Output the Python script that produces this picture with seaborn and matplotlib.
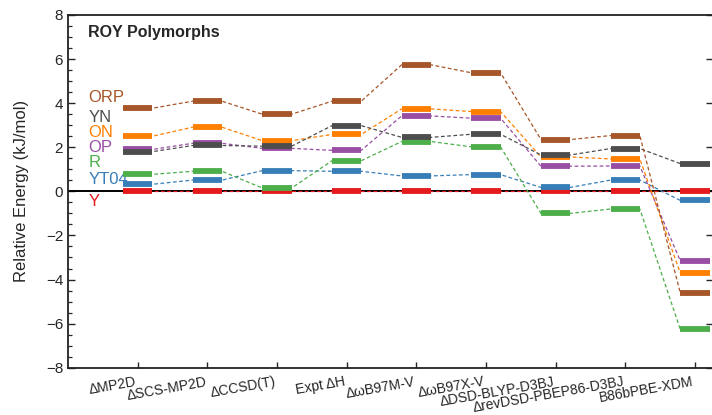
import numpy as np
import pandas as pd
import matplotlib
matplotlib.use("Agg")
import matplotlib.pyplot as plt
import seaborn as sns
from matplotlib.ticker import MultipleLocator

methods = ["\u0394MP2D", "\u0394SCS-MP2D", "\u0394CCSD(T)", "Expt \u0394H", "\u0394\u03c9B97M-V",
           "\u0394\u03c9B97X-V", "\u0394DSD-BLYP-D3BJ", "\u0394revDSD-PBEP86-D3BJ", "B86bPBE-XDM"]

Y    = [0.0, 0.0, 0.0, 0.0, 0.0, 0.0, 0.0, 0.0, 0.0]
YT04 = [0.32, 0.51, 0.94, 0.91, 0.70, 0.76, 0.18, 0.51, -0.41]
R    = [0.77, 0.91, 0.15, 1.39, 2.26, 2.02, -1.00, -0.80, -6.26]
OP   = [1.90, 2.18, 1.95, 1.86, 3.42, 3.32, 1.14, 1.15, -3.15]
ON   = [2.50, 2.91, 2.30, 2.58, 3.74, 3.62, 1.56, 1.47, -3.70]
YN   = [1.80, 2.08, 2.05, 2.98, 2.45, 2.59, 1.65, 1.94, 1.26]
ORP  = [3.77, 4.09, 3.50, 4.09, 5.74, 5.38, 2.35, 2.53, -4.60]

polymorphs = ["Y", "YT04", "R", "OP", "ON", "YN", "ORP"]
values = {"Y": Y, "YT04": YT04, "R": R, "OP": OP, "ON": ON, "YN": YN, "ORP": ORP}
colors = {"Y": "#e41a1c", "YT04": "#377eb8", "R": "#4daf4a", "OP": "#984ea3",
          "ON": "#ff7f00", "YN": "#4d4d4d", "ORP": "#a65628"}
label_y = {"ORP": 4.27, "YN": 3.36, "ON": 2.68, "OP": 2.0, "R": 1.32, "YT04": 0.52, "Y": -0.48}

sns.set_style("ticks")
plt.rcParams["font.family"] = ["Liberation Sans", "DejaVu Sans"]

hw = 0.21
rows = []
for p in polymorphs:
    for i, v in enumerate(values[p]):
        rows.append({"polymorph": p, "x": i - hw, "energy": v, "method": methods[i]})
        rows.append({"polymorph": p, "x": i + hw, "energy": v, "method": methods[i]})
df = pd.DataFrame(rows)

fig = plt.figure(figsize=(7.12, 4.15), dpi=100)
ax = fig.add_axes([68 / 712, (415 - 367.7) / 415, 645 / 712, 352.7 / 415])

ax.axhline(0, color="black", lw=1.4, zorder=1)

sns.lineplot(data=df, x="x", y="energy", hue="polymorph", hue_order=polymorphs,
             palette=colors, estimator=None, sort=False, lw=0.9,
             linestyle=(0, (3, 2)), legend=False, ax=ax, zorder=2)

for k, p in enumerate(polymorphs):
    xs = np.arange(len(methods))
    ax.hlines(values[p], xs - hw, xs + hw, colors=colors[p], lw=4.2, zorder=3 + k)
    ax.text(-0.71, label_y[p], p, color=colors[p], fontsize=12, va="center", ha="left")

ax.text(-0.71, 7.2, "ROY Polymorphs", fontsize=11.5, fontweight="bold", va="center", ha="left")

ax.set_xlim(-1, 8.26)
ax.set_ylim(-8, 8)
ax.set_xticks(range(len(methods)))
ax.set_xticklabels(methods, rotation=10, ha="right", fontsize=10)
ax.yaxis.set_major_locator(MultipleLocator(2))
ax.yaxis.set_minor_locator(MultipleLocator(0.5))
ax.tick_params(axis="y", which="major", direction="in", length=5, width=1, labelsize=11, right=True)
ax.tick_params(axis="y", which="minor", direction="in", length=3, width=0.9, left=True, right=False)
ax.tick_params(axis="x", direction="in", length=4, width=1, pad=5)
ax.set_xlabel("")
ax.set_ylabel("Relative Energy (kJ/mol)", fontsize=12, labelpad=12)
for s in ["left", "bottom", "top", "right"]:
    ax.spines[s].set_visible(True)
    ax.spines[s].set_linewidth(1.3)
    ax.spines[s].set_color("#222222")

fig.savefig("out.png", dpi=100)
